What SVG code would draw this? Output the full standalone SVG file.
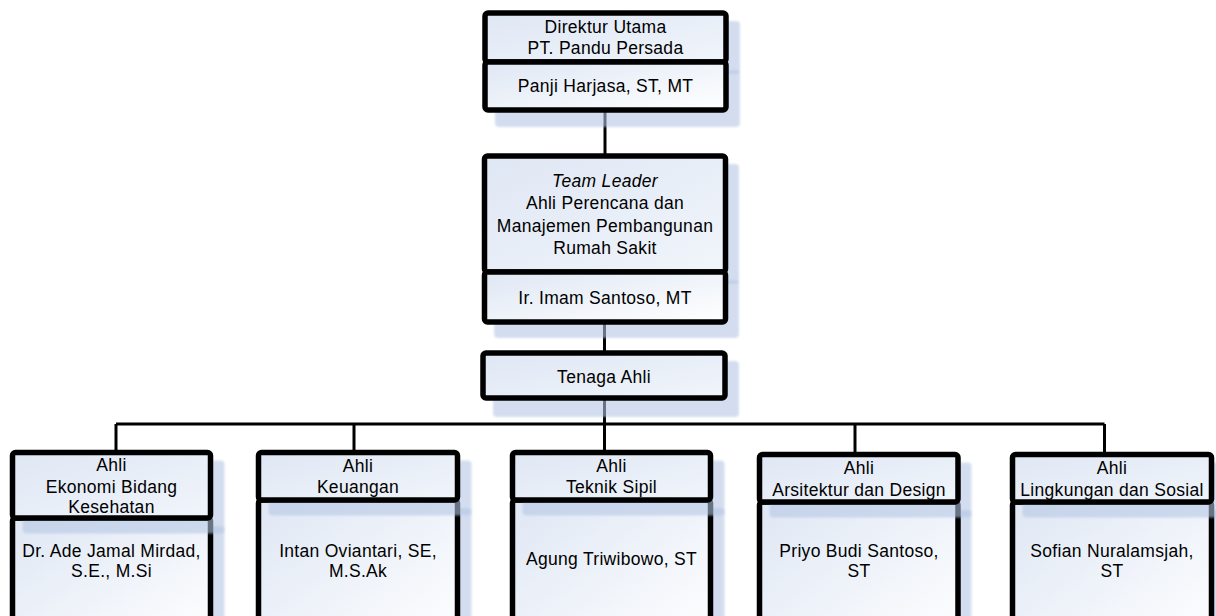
<svg xmlns="http://www.w3.org/2000/svg" width="1216" height="616" viewBox="0 0 1216 616">
<defs>
<linearGradient id="gHead" x1="0" y1="0" x2="1" y2="1">
<stop offset="0" stop-color="#dfe7f4"/>
<stop offset="1" stop-color="#f1f5fb"/>
</linearGradient>
<linearGradient id="gBody" x1="0" y1="0" x2="1" y2="1">
<stop offset="0" stop-color="#dfe7f4"/>
<stop offset="1" stop-color="#ffffff"/>
</linearGradient>
<filter id="blur" x="-10%" y="-10%" width="120%" height="120%">
<feGaussianBlur stdDeviation="1"/>
</filter>
</defs>
<style>
.sh{fill:#b4c6e4;opacity:0.58;filter:url(#blur)}
.hd{fill:url(#gHead);stroke:#000;stroke-width:5.5}
.bd{fill:url(#gBody);stroke:#000;stroke-width:5.5}
.t{font-family:"Liberation Sans",Arial,sans-serif;font-size:17.5px;fill:#000;text-anchor:middle;letter-spacing:0.3px}
.it{font-style:italic}
.cn{fill:none;stroke:#000;stroke-width:3}
</style>
<rect width="1216" height="616" fill="#ffffff"/>

<g id="connectors">
<path class="cn" d="M605,110 V156"/>
<path class="cn" d="M604.5,322 V353"/>
<path class="cn" d="M604.5,398 V452.5"/>
<path class="cn" d="M116,424 H1104.5"/>
<path class="cn" d="M116,424 V452.5"/>
<path class="cn" d="M354,424 V452.5"/>
<path class="cn" d="M855,424 V454.5"/>
<path class="cn" d="M1104.5,424 V454.5"/>
</g>

<g id="direktur">
<rect class="sh" x="495" y="21" width="245" height="53" rx="4"/>
<rect class="hd" x="485" y="13" width="241" height="49" rx="3"/>
<rect class="sh" x="495" y="70" width="245" height="57" rx="4"/>
<rect class="bd" x="485" y="62" width="241" height="48" rx="3"/>
<text class="t" x="605.5" y="33">Direktur Utama</text>
<text class="t" x="605.5" y="54">PT. Pandu Persada</text>
<text class="t" x="605.5" y="92">Panji Harjasa, ST, MT</text>
</g>

<g id="team-leader">
<rect class="sh" x="494" y="164" width="245" height="120" rx="4"/>
<rect class="hd" x="484.5" y="156" width="241" height="116" rx="3"/>
<rect class="sh" x="494" y="280" width="245" height="58" rx="4"/>
<rect class="bd" x="484.5" y="272" width="241" height="50" rx="3"/>
<text class="t it" x="605" y="187">Team Leader</text>
<text class="t" x="605" y="209">Ahli Perencana dan</text>
<text class="t" x="605" y="232">Manajemen Pembangunan</text>
<text class="t" x="605" y="254">Rumah Sakit</text>
<text class="t" x="605" y="304">Ir. Imam Santoso, MT</text>
</g>

<g id="tenaga-ahli">
<rect class="sh" x="493" y="361" width="246" height="56" rx="4"/>
<rect class="hd" x="483" y="353" width="242" height="45" rx="3"/>
<text class="t" x="604" y="383">Tenaga Ahli</text>
</g>

<g id="ahli-ekonomi">
<rect class="sh" x="22.5" y="526" width="202" height="140" rx="4"/>
<rect class="bd" x="12.5" y="518" width="198" height="130" rx="3"/>
<rect class="sh" x="22.5" y="460.5" width="202" height="73" rx="4"/>
<rect class="hd" x="12.5" y="452.5" width="198" height="65.5" rx="3"/>
<text class="t" x="111.5" y="471">Ahli</text>
<text class="t" x="111.5" y="493">Ekonomi Bidang</text>
<text class="t" x="111.5" y="513">Kesehatan</text>
<text class="t" x="111.5" y="557">Dr. Ade Jamal Mirdad,</text>
<text class="t" x="111.5" y="577">S.E., M.Si</text>
</g>

<g id="ahli-keuangan">
<rect class="sh" x="268.5" y="508" width="203" height="150" rx="4"/>
<rect class="bd" x="258.5" y="500" width="199" height="150" rx="3"/>
<rect class="sh" x="268.5" y="460.5" width="203" height="55" rx="4"/>
<rect class="hd" x="258.5" y="452.5" width="199" height="47.5" rx="3"/>
<text class="t" x="358" y="472">Ahli</text>
<text class="t" x="358" y="493">Keuangan</text>
<text class="t" x="358" y="557">Intan Oviantari, SE,</text>
<text class="t" x="358" y="577">M.S.Ak</text>
</g>

<g id="ahli-teknik-sipil">
<rect class="sh" x="522.5" y="508" width="202" height="150" rx="4"/>
<rect class="bd" x="512.5" y="500" width="198" height="150" rx="3"/>
<rect class="sh" x="522.5" y="460.5" width="202" height="55" rx="4"/>
<rect class="hd" x="512.5" y="452.5" width="198" height="47.5" rx="3"/>
<text class="t" x="611.5" y="472">Ahli</text>
<text class="t" x="611.5" y="493">Teknik Sipil</text>
<text class="t" x="611.5" y="565">Agung Triwibowo, ST</text>
</g>

<g id="ahli-arsitektur">
<rect class="sh" x="769.5" y="510" width="202" height="150" rx="4"/>
<rect class="bd" x="759.5" y="502" width="198.5" height="150" rx="3"/>
<rect class="sh" x="769.5" y="462.5" width="202" height="55" rx="4"/>
<rect class="hd" x="759.5" y="454.5" width="198.5" height="47.5" rx="3"/>
<text class="t" x="859" y="474">Ahli</text>
<text class="t" x="859" y="496">Arsitektur dan Design</text>
<text class="t" x="859" y="557">Priyo Budi Santoso,</text>
<text class="t" x="859" y="577">ST</text>
</g>

<g id="ahli-lingkungan">
<rect class="sh" x="1022.5" y="510" width="203" height="150" rx="4"/>
<rect class="bd" x="1012.5" y="502" width="199" height="150" rx="3"/>
<rect class="sh" x="1022.5" y="462.5" width="203" height="55" rx="4"/>
<rect class="hd" x="1012.5" y="454.5" width="199" height="47.5" rx="3"/>
<text class="t" x="1112" y="474">Ahli</text>
<text class="t" x="1112" y="496">Lingkungan dan Sosial</text>
<text class="t" x="1112" y="557">Sofian Nuralamsjah,</text>
<text class="t" x="1112" y="577">ST</text>
</g>
</svg>
